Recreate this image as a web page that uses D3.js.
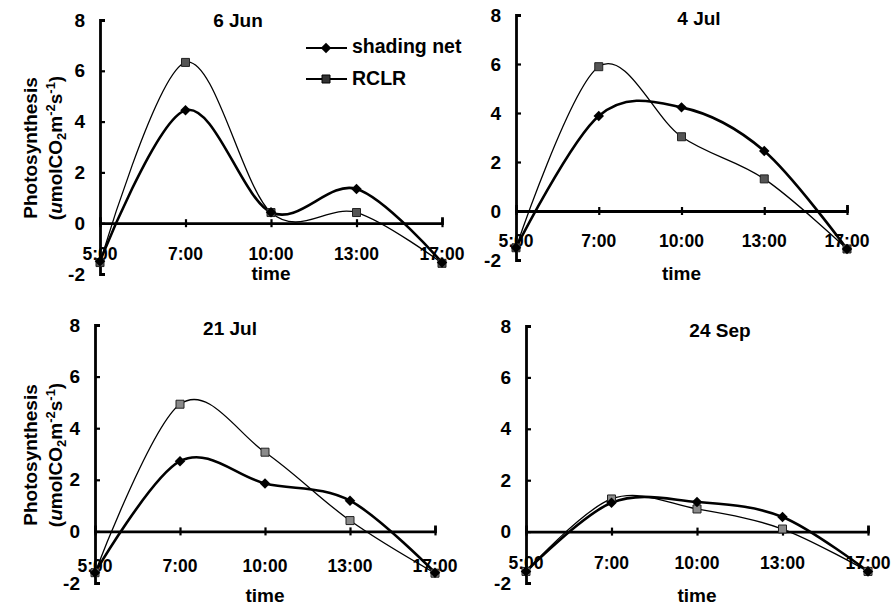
<!DOCTYPE html>
<html>
<head>
<meta charset="utf-8">
<script src="https://cdn.jsdelivr.net/npm/d3@7"></script>
<style>
  body { margin: 0; background: #fff; }
  svg text { font-family: "Liberation Sans", Arial, sans-serif; font-weight: bold; fill: #000; }
</style>
</head>
<body>
<svg id="chart" width="895" height="609"></svg>
<script>
// categories on the x axis
var times = ["5:00", "7:00", "10:00", "13:00", "17:00"];
var dates = ["6 Jun", "4 Jul", "21 Jul", "24 Sep"];
var yTicks = [-2, 0, 2, 4, 6, 8];

// photosynthesis values, one row per date
var shadingNet = [
  [-1.5, 4.45, 0.43, 1.35, -1.55],
  [-1.5, 3.88, 4.23, 2.45, -1.55],
  [-1.6, 2.72, 1.86, 1.19, -1.6],
  [-1.55, 1.12, 1.15, 0.57, -1.55]
];
var rclr = [
  [-1.55, 6.33, 0.42, 0.42, -1.58],
  [-1.5, 5.89, 3.03, 1.31, -1.55],
  [-1.6, 4.93, 3.07, 0.42, -1.62],
  [-1.55, 1.27, 0.88, 0.1, -1.55]
];

// where each small chart sits on the page
var panels = [
  { x0: 100, x1: 442, top: 20,  bot: 274, titleX: 238, titleY: 27,  labelY: 260, timeY: 280, yLabel: true,  sq: "#555" },
  { x0: 516, x1: 847, top: 15,  bot: 260, titleX: 699, titleY: 25,  labelY: 247, timeY: 280, yLabel: false, sq: "#555" },
  { x0: 95,  x1: 435, top: 325, bot: 583, titleX: 230, titleY: 335, labelY: 572, timeY: 602, yLabel: true,  sq: "#8a8a8a" },
  { x0: 526, x1: 868, top: 326, bot: 583, titleX: 720, titleY: 337, labelY: 569, timeY: 602, yLabel: false, sq: "#8a8a8a" }
];

var svg = d3.select("#chart");
var diamond = d3.symbol().type(d3.symbolDiamond2).size(70);
var square = d3.symbol().type(d3.symbolSquare).size(64);

panels.forEach(function(p, i) {
  var g = svg.append("g");
  var x = d3.scalePoint().domain(times).range([p.x0, p.x1]);
  var y = d3.scaleLinear().domain([-2, 8]).range([p.bot, p.top]);

  // y axis, ticks pointing inside
  var yAxis = g.append("g")
    .attr("transform", "translate(" + p.x0 + ",0)")
    .call(d3.axisLeft(y).tickValues(yTicks).tickSizeInner(-5).tickSizeOuter(-5).tickPadding(15));
  yAxis.select(".domain").attr("stroke", "#000").attr("stroke-width", 2.8);
  yAxis.selectAll(".tick line").attr("stroke", "#000").attr("stroke-width", 2.2);
  yAxis.selectAll(".tick text").style("font-size", "19px").attr("fill", "#000").text(function(d) { return d < 0 ? "-" + Math.abs(d) : d; });

  // x axis drawn at zero
  var xAxis = g.append("g")
    .attr("transform", "translate(0," + y(0) + ")")
    .call(d3.axisBottom(x).tickSizeInner(4).tickSizeOuter(-6).tickFormat(""));
  xAxis.select(".domain").attr("stroke", "#000").attr("stroke-width", 2.8);
  xAxis.selectAll(".tick line").attr("y1", -4).attr("y2", 4).attr("stroke", "#000").attr("stroke-width", 2.2);

  g.selectAll(".tlabel").data(times).enter().append("text")
    .attr("class", "tlabel")
    .attr("x", function(d) { return x(d); })
    .attr("y", p.labelY)
    .attr("text-anchor", "middle")
    .style("font-size", "17.5px")
    .text(function(d) { return d; });

  g.append("text")
    .attr("x", (p.x0 + p.x1) / 2)
    .attr("y", p.timeY)
    .attr("text-anchor", "middle")
    .style("font-size", "19px")
    .text("time");

  g.append("text")
    .attr("x", p.titleX)
    .attr("y", p.titleY)
    .attr("text-anchor", "middle")
    .style("font-size", "19px")
    .text(dates[i]);

  if (p.yLabel) {
    var cy = (p.top + p.bot) / 2 + 1;
    g.append("text")
      .attr("transform", "translate(37," + cy + ") rotate(-90)")
      .attr("text-anchor", "middle")
      .style("font-size", "19px")
      .text("Photosynthesis");
    var t2 = g.append("text")
      .attr("transform", "translate(62," + cy + ") rotate(-90)")
      .attr("text-anchor", "middle")
      .style("font-size", "19px");
    t2.append("tspan").text("(");
    t2.append("tspan").style("font-style", "italic").text("u");
    t2.append("tspan").text("molCO");
    t2.append("tspan").attr("dy", 4).style("font-size", "13px").text("2");
    t2.append("tspan").attr("dy", -4).text("m");
    t2.append("tspan").attr("dy", -7).style("font-size", "13px").text("-2");
    t2.append("tspan").attr("dy", 7).text("s");
    t2.append("tspan").attr("dy", -7).style("font-size", "13px").text("-1");
    t2.append("tspan").attr("dy", 7).text(")");
  }

  var line = d3.line()
    .x(function(d, j) { return x(times[j]); })
    .y(function(d) { return y(d); })
    .curve(d3.curveCardinal.tension(0));

  g.append("path").datum(rclr[i])
    .attr("d", line).attr("fill", "none").attr("stroke", "#000").attr("stroke-width", 1.3);
  g.append("path").datum(shadingNet[i])
    .attr("d", line).attr("fill", "none").attr("stroke", "#000").attr("stroke-width", 2.6);

  g.selectAll(".sq").data(rclr[i]).enter().append("path")
    .attr("class", "sq")
    .attr("d", square)
    .attr("transform", function(d, j) { return "translate(" + x(times[j]) + "," + y(d) + ")"; })
    .attr("fill", p.sq).attr("stroke", "#222").attr("stroke-width", 1);
  g.selectAll(".dm").data(shadingNet[i]).enter().append("path")
    .attr("class", "dm")
    .attr("d", diamond)
    .attr("transform", function(d, j) { return "translate(" + x(times[j]) + "," + y(d) + ")"; })
    .attr("fill", "#000");
});

// legend
var legend = svg.append("g");
legend.append("line").attr("x1", 306).attr("x2", 347).attr("y1", 48).attr("y2", 48).attr("stroke", "#000").attr("stroke-width", 2);
legend.append("path").attr("d", diamond).attr("transform", "translate(326,48)").attr("fill", "#000");
legend.append("text").attr("x", 352).attr("y", 53).style("font-size", "19.5px").text("shading net");
legend.append("line").attr("x1", 306).attr("x2", 347).attr("y1", 79).attr("y2", 79).attr("stroke", "#000").attr("stroke-width", 2);
legend.append("path").attr("d", square).attr("transform", "translate(326,79)").attr("fill", "#333").attr("stroke", "#000");
legend.append("text").attr("x", 352).attr("y", 85).style("font-size", "19.5px").text("RCLR");
</script>
</body>
</html>
